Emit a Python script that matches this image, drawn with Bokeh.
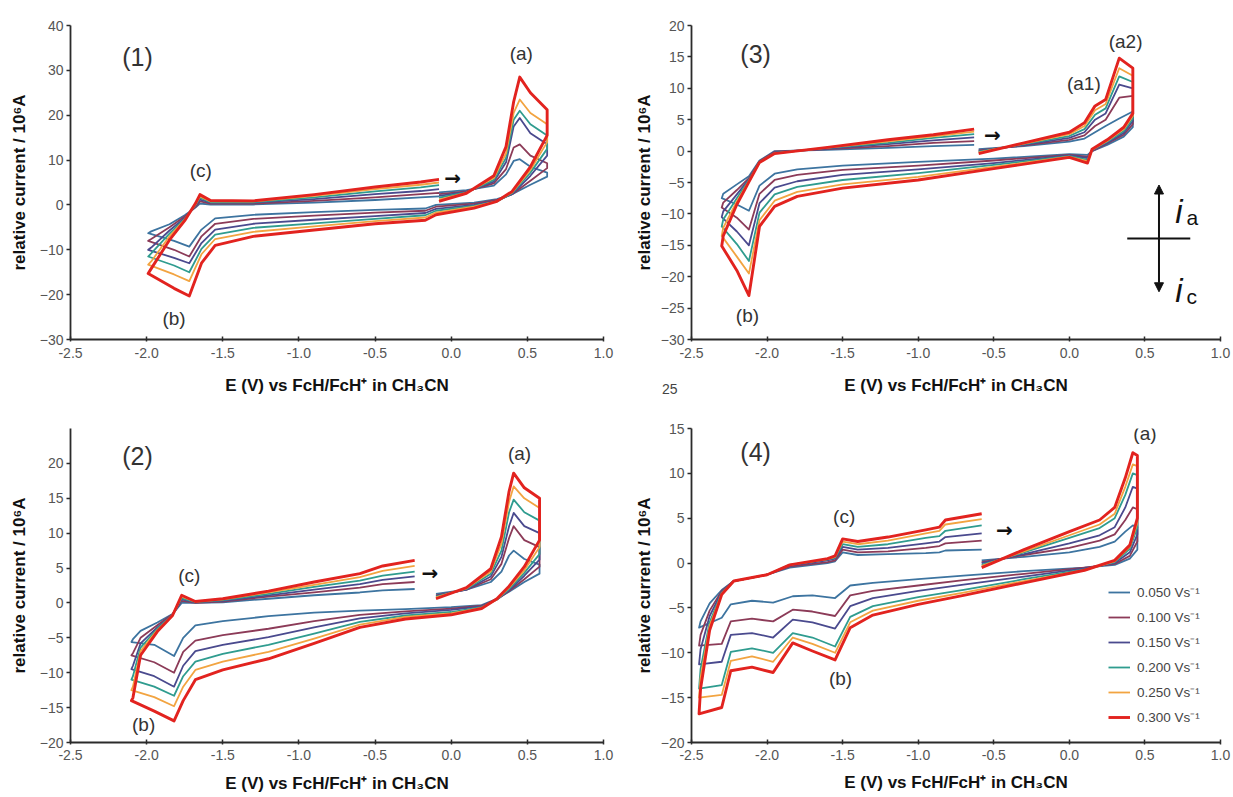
from bokeh.plotting import figure
from bokeh.layouts import column, row
from bokeh.models import Range1d, FixedTicker, PrintfTickFormatter, Label, Arrow, NormalHead, Legend, Div
from bokeh.embed import file_html
from bokeh.resources import INLINE

FONT = "Liberation Sans"

RATES = ["0.050 Vs⁻¹", "0.100 Vs⁻¹", "0.150 Vs⁻¹", "0.200 Vs⁻¹", "0.250 Vs⁻¹", "0.300 Vs⁻¹"]
COLORS = ["#3d74a0", "#8c3b58", "#4a4a8e", "#2f9c8f", "#f2a441", "#e2231f"]
XTICKS = [-2.5, -2.0, -1.5, -1.0, -0.5, 0.0, 0.5, 1.0]
XLABEL = "E (V) vs FcH/FcH⁺ in CH₃CN"
YLABEL = "relative current / 10⁶A"

# ---------------- Panel (1) ----------------
P1_E = [-0.08, 0.10, 0.28, 0.36, 0.41, 0.45, 0.52, 0.63,
        0.63, 0.52, 0.40, 0.30, 0.15, -0.10, -0.17, -0.50, -0.90, -1.30, -1.55, -1.64, -1.72, -1.82, -1.99,
        -1.97, -1.85, -1.75, -1.68, -1.65, -1.58, -1.30, -0.90, -0.50, -0.20, -0.08]
P1_050 = [2.8, 3.3, 4.3, 6.8, 9.8, 10.2, 8.5, 7.2,
          6.3, 4.5, 2.4, 1.3, 0.5, 0.0, -0.8, -1.1, -1.6, -2.2, -3.0, -5.5, -9.3, -8.0, -6.3,
          -5.9, -4.3, -2.3, -0.6, 0.3, 0.1, 0.1, 0.5, 1.1, 1.7, 1.9]
P1_100 = [2.4, 3.0, 4.8, 8.0, 12.8, 13.5, 11.0, 9.3,
          8.2, 5.4, 2.4, 1.1, 0.3, -0.4, -1.3, -1.7, -2.4, -3.1, -4.2, -7.0, -11.5, -10.0, -8.0,
          -7.6, -5.0, -2.6, -0.5, 0.8, 0.3, 0.3, 0.9, 1.7, 2.4, 2.7]
P1_150 = [2.0, 2.9, 5.2, 9.5, 17.5, 19.4, 16.0, 13.5,
          11.0, 6.5, 2.4, 0.9, 0.0, -0.9, -1.8, -2.5, -3.3, -4.2, -5.5, -8.5, -13.0, -11.8, -10.0,
          -9.5, -5.7, -2.9, -0.3, 1.2, 0.5, 0.5, 1.3, 2.4, 3.1, 3.5]
P1_200 = [1.6, 2.8, 5.6, 10.5, 19.0, 21.0, 18.0, 15.5,
          12.5, 7.2, 2.6, 0.8, -0.2, -1.3, -2.3, -3.1, -4.1, -5.1, -6.6, -9.8, -15.0, -13.5, -11.5,
          -10.8, -6.4, -3.1, -0.1, 1.6, 0.6, 0.6, 1.7, 3.0, 3.9, 4.4]
P1_250 = [1.2, 2.7, 6.0, 11.5, 20.5, 23.5, 20.5, 18.0,
          14.0, 7.8, 2.8, 0.8, -0.4, -1.7, -2.8, -3.6, -4.8, -6.0, -7.6, -11.0, -17.0, -15.5, -13.3,
          -12.6, -7.0, -3.3, 0.1, 1.9, 0.8, 0.8, 2.0, 3.5, 4.5, 5.0]
P1_300 = [0.8, 2.6, 6.5, 13.0, 23.0, 28.5, 25.0, 21.2,
          15.5, 8.5, 3.0, 0.8, -0.7, -2.2, -3.4, -4.2, -5.6, -7.0, -9.0, -13.0, -20.3, -18.6, -15.3,
          -14.2, -7.8, -3.5, 0.3, 2.3, 1.0, 0.9, 2.3, 4.0, 5.1, 5.7]

# ---------------- Panel (2) ----------------
P2_E = [-0.10, 0.10, 0.26, 0.33, 0.38, 0.41, 0.48, 0.58,
        0.58, 0.48, 0.38, 0.30, 0.20, 0.00, -0.30, -0.60, -0.90, -1.20, -1.50, -1.68, -1.76, -1.82, -1.95, -2.10,
        -2.09, -2.04, -1.93, -1.83, -1.77, -1.68, -1.50, -1.20, -0.90, -0.60, -0.45, -0.24]
P2_050 = [1.3, 1.9, 3.0, 4.5, 6.8, 7.5, 6.3, 5.5,
          4.2, 3.0, 1.6, 0.6, -0.3, -0.6, -0.9, -1.1, -1.4, -1.9, -2.6, -3.2, -5.0, -7.6, -6.0, -5.6,
          -5.2, -4.0, -2.8, -1.6, 0.0, 0.0, 0.1, 0.6, 1.1, 1.5, 1.8, 2.0]
P2_100 = [1.1, 1.9, 3.4, 5.6, 9.3, 11.0, 9.0, 8.0,
          5.2, 3.4, 1.7, 0.5, -0.4, -0.8, -1.2, -1.7, -2.6, -3.7, -4.6, -5.4, -7.0, -10.0, -8.5, -7.5,
          -7.2, -5.0, -3.2, -1.6, 0.3, 0.0, 0.2, 0.9, 1.5, 2.2, 2.7, 3.0]
P2_150 = [1.0, 1.9, 3.8, 6.6, 11.0, 12.9, 11.0, 10.0,
          6.2, 3.9, 1.8, 0.5, -0.5, -1.0, -1.5, -2.2, -3.5, -4.9, -6.0, -6.9, -9.0, -12.0, -10.5, -9.5,
          -9.0, -5.8, -3.5, -1.7, 0.5, 0.1, 0.3, 1.1, 1.9, 2.7, 3.3, 3.8]
P2_200 = [0.9, 2.0, 4.2, 7.5, 13.0, 14.8, 13.0, 11.8,
          7.0, 4.3, 2.0, 0.5, -0.6, -1.3, -1.8, -2.7, -4.4, -6.0, -7.3, -8.4, -10.5, -13.3, -12.0, -11.0,
          -10.5, -6.4, -3.7, -1.7, 0.7, 0.1, 0.4, 1.3, 2.3, 3.2, 3.9, 4.5]
P2_250 = [0.8, 2.1, 4.5, 8.5, 14.5, 16.7, 15.0, 13.6,
          8.0, 4.7, 2.2, 0.5, -0.7, -1.5, -2.0, -3.1, -5.1, -7.0, -8.4, -9.6, -12.0, -14.8, -13.5, -12.5,
          -12.0, -6.9, -3.9, -1.8, 0.9, 0.2, 0.5, 1.5, 2.6, 3.7, 4.6, 5.3]
P2_300 = [0.6, 2.2, 4.9, 9.5, 16.0, 18.6, 16.5, 15.0,
          9.0, 5.2, 2.4, 0.6, -0.8, -1.7, -2.3, -3.5, -5.8, -8.0, -9.6, -11.0, -14.0, -16.9, -15.5, -14.0,
          -13.6, -7.5, -4.1, -1.8, 1.1, 0.2, 0.6, 1.7, 3.0, 4.2, 5.3, 6.1]

# ---------------- Panel (3) ----------------
P3_E = [-0.60, -0.30, 0.00, 0.10, 0.17, 0.24, 0.33, 0.42,
        0.42, 0.36, 0.25, 0.15, 0.12, 0.00, -0.50, -1.00, -1.50, -1.80, -1.95, -2.05, -2.12, -2.20, -2.30,
        -2.29, -2.20, -2.12, -2.05, -1.95, -1.60, -1.20, -0.90, -0.63]
P3_050 = [0.3, 0.8, 1.5, 2.0, 3.0, 4.0, 5.2, 6.3,
          3.8, 2.3, 1.0, 0.0, -0.6, -0.5, -1.2, -1.7, -2.3, -2.9, -3.6, -5.5, -9.5, -8.5, -7.5,
          -6.8, -5.3, -4.0, -1.5, 0.0, 0.2, 0.5, 0.8, 1.0]
P3_100 = [0.1, 0.9, 1.8, 2.5, 4.0, 5.0, 8.5, 8.8,
          4.3, 2.6, 1.2, 0.0, -0.9, -0.6, -1.5, -2.3, -3.0, -3.8, -4.6, -6.8, -12.5, -10.6, -9.0,
          -8.2, -6.2, -4.3, -1.6, -0.1, 0.3, 0.8, 1.3, 1.6]
P3_150 = [0.0, 1.0, 2.1, 3.0, 5.0, 6.0, 10.6, 10.0,
          4.8, 2.9, 1.3, 0.1, -1.1, -0.7, -1.9, -2.9, -3.8, -4.8, -5.8, -8.3, -15.0, -12.8, -10.5,
          -9.6, -6.9, -4.5, -1.7, -0.2, 0.4, 1.1, 1.7, 2.2]
P3_200 = [-0.1, 1.1, 2.4, 3.5, 5.8, 6.8, 11.9, 11.0,
          5.2, 3.2, 1.5, 0.2, -1.4, -0.8, -2.2, -3.5, -4.6, -5.7, -6.9, -9.8, -17.5, -14.8, -12.0,
          -10.9, -7.5, -4.6, -1.7, -0.3, 0.5, 1.3, 2.1, 2.7]
P3_250 = [-0.2, 1.2, 2.7, 4.0, 6.5, 7.5, 13.2, 12.0,
          5.6, 3.5, 1.6, 0.2, -1.6, -0.9, -2.5, -4.1, -5.3, -6.5, -7.9, -11.0, -19.5, -16.8, -13.5,
          -12.2, -8.0, -4.8, -1.8, -0.35, 0.55, 1.55, 2.35, 3.1]
P3_300 = [-0.4, 1.3, 3.0, 4.5, 7.2, 8.2, 14.8, 13.2,
          6.0, 3.8, 1.8, 0.3, -1.9, -1.0, -2.8, -4.6, -5.9, -7.2, -8.8, -12.0, -23.0, -19.0, -15.1,
          -13.5, -8.5, -4.9, -1.8, -0.4, 0.6, 1.8, 2.6, 3.5]

# ---------------- Panel (4) ----------------
P4_E = [-0.58, -0.30, 0.00, 0.20, 0.30, 0.37, 0.42, 0.45,
        0.45, 0.40, 0.30, 0.10, -0.30, -0.70, -1.00, -1.30, -1.45, -1.55, -1.70, -1.83, -1.96, -2.10, -2.24, -2.30, -2.45,
        -2.44, -2.38, -2.30, -2.22, -2.00, -1.85, -1.60, -1.55, -1.50, -1.40, -1.20, -0.95, -0.86, -0.82, -0.58]
P4_050 = [0.3, 0.7, 1.2, 1.8, 2.4, 3.5, 4.2, 4.0,
          1.5, 0.5, -0.2, -0.5, -0.9, -1.4, -1.8, -2.2, -2.5, -3.9, -3.6, -3.7, -4.4, -4.2, -4.6, -6.1, -7.2,
          -6.5, -4.5, -3.0, -2.0, -1.3, -0.5, 0.0, 0.2, 1.2, 0.9, 1.0, 1.1, 1.2, 1.4, 1.5]
P4_100 = [0.1, 0.9, 1.7, 2.5, 3.2, 4.8, 6.2, 6.0,
          2.4, 0.8, -0.1, -0.5, -1.2, -1.9, -2.5, -3.1, -3.6, -5.9, -5.4, -5.2, -6.5, -6.2, -6.5, -9.0, -9.2,
          -8.0, -5.3, -3.1, -2.0, -1.3, -0.4, 0.1, 0.3, 1.5, 1.2, 1.3, 1.7, 1.9, 2.2, 2.5]
P4_150 = [0.0, 1.0, 2.2, 3.1, 4.0, 6.2, 8.5, 8.3,
          3.2, 1.2, 0.0, -0.6, -1.5, -2.4, -3.1, -3.9, -4.8, -7.3, -6.6, -6.3, -8.3, -7.8, -8.0, -11.0, -11.3,
          -9.6, -5.9, -3.2, -2.0, -1.3, -0.3, 0.3, 0.5, 1.8, 1.5, 1.7, 2.2, 2.4, 2.9, 3.3]
P4_200 = [-0.2, 1.2, 2.8, 3.9, 5.0, 7.6, 10.0, 9.8,
          4.0, 1.6, 0.1, -0.7, -1.8, -3.0, -3.8, -4.8, -6.0, -9.3, -8.3, -7.8, -10.0, -9.5, -9.9, -13.6, -14.0,
          -11.8, -6.6, -3.3, -2.0, -1.3, -0.2, 0.4, 0.6, 2.1, 1.8, 2.1, 2.8, 3.0, 3.6, 4.2]
P4_250 = [-0.3, 1.3, 3.1, 4.3, 5.5, 8.5, 11.0, 10.8,
          4.5, 1.8, 0.2, -0.8, -2.0, -3.3, -4.2, -5.3, -6.6, -10.0, -9.0, -8.3, -11.0, -10.4, -10.9, -14.7, -15.0,
          -12.8, -7.0, -3.4, -2.0, -1.3, -0.2, 0.45, 0.7, 2.4, 2.1, 2.5, 3.3, 3.6, 4.3, 4.9]
P4_300 = [-0.5, 1.5, 3.5, 4.8, 6.2, 9.5, 12.3, 12.0,
          5.0, 2.0, 0.3, -0.8, -2.2, -3.6, -4.6, -5.8, -7.2, -10.8, -9.8, -8.9, -12.2, -11.6, -12.0, -16.1, -16.8,
          -14.0, -7.5, -3.5, -2.0, -1.3, -0.2, 0.5, 0.8, 2.7, 2.4, 2.9, 3.7, 4.0, 4.8, 5.5]

P1_SERIES = [P1_050, P1_100, P1_150, P1_200, P1_250, P1_300]
P2_SERIES = [P2_050, P2_100, P2_150, P2_200, P2_250, P2_300]
P3_SERIES = [P3_050, P3_100, P3_150, P3_200, P3_250, P3_300]
P4_SERIES = [P4_050, P4_100, P4_150, P4_200, P4_250, P4_300]


def make_fig(w, h, yr, yticks, bl, br, bt, bb, ylab_standoff, xlab_standoff, xtick_standoff):
    p = figure(width=w, height=h, x_range=Range1d(-2.5, 1.0), y_range=Range1d(*yr),
               output_backend="svg", toolbar_location=None,
               min_border_left=bl, min_border_right=br, min_border_top=bt, min_border_bottom=bb)
    p.xgrid.visible = False
    p.ygrid.visible = False
    p.outline_line_color = None
    p.background_fill_color = "white"
    p.border_fill_color = "white"
    p.xaxis.ticker = FixedTicker(ticks=XTICKS)
    p.xaxis.formatter = PrintfTickFormatter(format="%.1f")
    p.yaxis.ticker = FixedTicker(ticks=yticks)
    p.xaxis.axis_label = XLABEL
    p.yaxis.axis_label = YLABEL
    for ax in (p.xaxis[0], p.yaxis[0]):
        ax.axis_line_color = "#2b2b2b"
        ax.axis_line_width = 1.8
        ax.major_tick_line_color = "#2b2b2b"
        ax.major_tick_line_width = 1.5
        ax.minor_tick_line_color = None
        ax.major_label_text_font = FONT
        ax.major_label_text_font_size = "14px"
        ax.major_label_text_color = "#555555"
        ax.axis_label_text_font = FONT
        ax.axis_label_text_font_size = "17px"
        ax.axis_label_text_font_style = "bold"
        ax.axis_label_text_color = "#111111"
    p.yaxis.major_tick_out = 4
    p.yaxis.major_tick_in = 0
    p.yaxis.major_label_standoff = 3
    p.yaxis.axis_label_standoff = ylab_standoff
    p.xaxis.major_tick_out = 2
    p.xaxis.major_tick_in = 3
    p.xaxis.major_label_standoff = xtick_standoff
    p.xaxis.axis_label_standoff = xlab_standoff
    return p


def draw(p, E, series):
    rs = []
    for i, I in enumerate(series):
        lw = 2.9 if i == 5 else 1.8
        r = p.line(E, I, line_color=COLORS[i], line_width=lw, line_join="round")
        rs.append(r)
    return rs


def lab(p, x, y, t, size, style="normal", color="#333333", align="center", baseline="middle", font=FONT):
    p.add_layout(Label(x=x, y=y, text=t, text_font=font, text_font_size=size, text_font_style=style,
                       text_color=color, text_align=align, text_baseline=baseline))


def arrow_mark(p, x, y):
    lab(p, x, y, "→", "20px", style="bold", color="#111111", font="DejaVu Sans")


# Panel 1 (top-left)
p1 = make_fig(616, 400, (-30, 40), [-30, -20, -10, 0, 10, 20, 30, 40], 70, 13, 22, 61, 8, 15, 6)
draw(p1, P1_E, P1_SERIES)
lab(p1, -2.06, 33.0, "(1)", "25px")
lab(p1, 0.46, 33.8, "(a)", "19px")
lab(p1, -1.645, 7.7, "(c)", "19px")
lab(p1, -1.82, -25.4, "(b)", "19px")
arrow_mark(p1, 0.01, 6.0)

# Panel 3 (top-right)
p3 = make_fig(615, 400, (-30, 20), [-30, -25, -20, -15, -10, -5, 0, 5, 10, 15, 20], 75, 11, 25, 57, 4, 15, 6)
draw(p3, P3_E, P3_SERIES)
lab(p3, -2.076, 15.5, "(3)", "25px")
lab(p3, 0.372, 17.4, "(a2)", "19px")
lab(p3, 0.096, 10.8, "(a1)", "19px")
lab(p3, -2.13, -26.1, "(b)", "19px")
arrow_mark(p3, -0.51, 2.6)
p3.add_layout(Arrow(end=NormalHead(size=9, fill_color="#111111", line_color="#111111"),
                    x_start=0.593, y_start=-13.9, x_end=0.593, y_end=-5.4,
                    line_color="#111111", line_width=2))
p3.add_layout(Arrow(end=NormalHead(size=9, fill_color="#111111", line_color="#111111"),
                    x_start=0.593, y_start=-13.9, x_end=0.593, y_end=-22.4,
                    line_color="#111111", line_width=2))
p3.add_layout(Arrow(end=None, x_start=0.383, y_start=-13.9, x_end=0.80, y_end=-13.9,
                    line_color="#111111", line_width=2))
lab(p3, 0.70, -9.6, "i", "33px", style="italic", color="#111111", align="left", baseline="alphabetic")
lab(p3, 0.775, -10.6, "a", "21px", color="#111111", align="left", baseline="alphabetic")
lab(p3, 0.70, -22.2, "i", "33px", style="italic", color="#111111", align="left", baseline="alphabetic")
lab(p3, 0.775, -23.2, "c", "21px", color="#111111", align="left", baseline="alphabetic")

# Panel 2 (bottom-left)
p2 = make_fig(616, 396, (-20, 25), [-20, -15, -10, -5, 0, 5, 10, 15, 20], 70, 13, 25, 54, 8, 11, 5)
draw(p2, P2_E, P2_SERIES)
lab(p2, -2.06, 21.0, "(2)", "25px")
lab(p2, 0.449, 21.4, "(a)", "19px")
lab(p2, -1.72, 3.9, "(c)", "19px")
lab(p2, -2.02, -17.4, "(b)", "19px")
arrow_mark(p2, -0.14, 4.3)

# Panel 4 (bottom-right)
p4 = make_fig(615, 396, (-20, 15), [-20, -15, -10, -5, 0, 5, 10, 15], 75, 11, 28, 53, 4, 10, 5)
rs4 = draw(p4, P4_E, P4_SERIES)
lab(p4, -2.076, 12.4, "(4)", "25px")
lab(p4, 0.50, 14.4, "(a)", "19px")
lab(p4, -1.49, 5.2, "(c)", "19px")
lab(p4, -1.514, -12.9, "(b)", "19px")
arrow_mark(p4, -0.43, 3.7)

legend = Legend(items=[(RATES[i], [rs4[i]]) for i in range(6)], location=(417, 15))
legend.label_text_font = FONT
legend.label_text_font_size = "13.5px"
legend.label_text_color = "#444444"
legend.glyph_width = 22
legend.glyph_height = 20
legend.label_height = 20
legend.spacing = 5
legend.padding = 0
legend.margin = 0
legend.label_standoff = 7
legend.border_line_color = None
legend.background_fill_alpha = 0
p4.add_layout(legend)

page_no = Div(text="25", styles={"position": "absolute", "left": "657px", "top": "374px",
                                 "font-family": FONT, "font-size": "14px", "color": "#444444"})

layout = column(row(p1, p3), row(p2, p4), page_no)
open("out.html", "w").write(file_html(layout, INLINE))
